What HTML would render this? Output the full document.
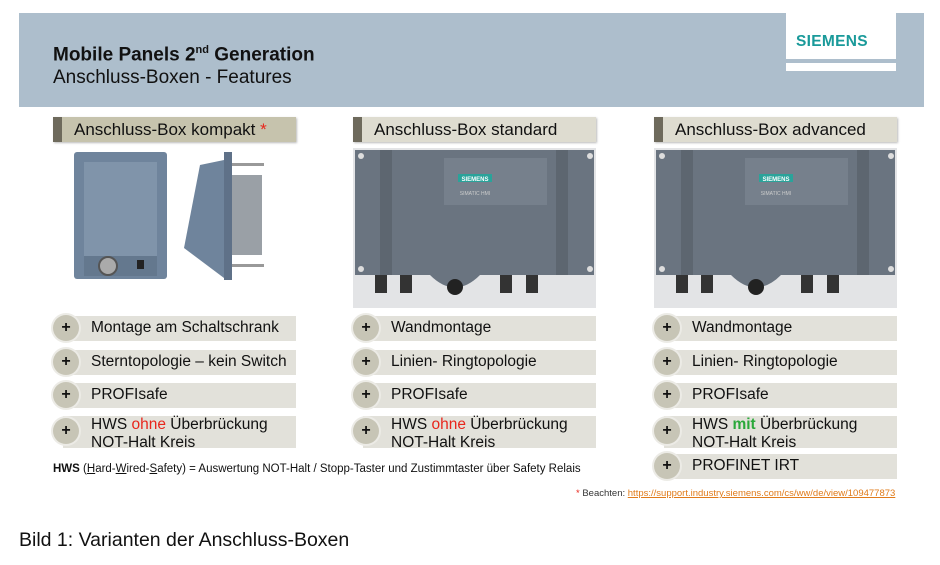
<!DOCTYPE html>
<html><head><meta charset="utf-8"><style>
body{margin:0;width:940px;height:565px;background:#fff;position:relative;overflow:hidden;font-family:"Liberation Sans",sans-serif}
.a{position:absolute}
.hdr{left:19px;top:13px;width:905px;height:94px;background:#adbecc}
.tab{height:25px;width:243px;background:#dedcd0;font-size:17px;line-height:26px;color:#111;box-shadow:1px 1px 2px #bbb}
.tab:before{content:"";position:absolute;left:0;top:0;width:9px;height:25px;background:#6e6a5c}
.tab span{position:absolute;left:21px;top:0}
.row{height:25px;width:233px;background:#e2e1da;font-size:15.5px;color:#111}
.row .c{position:absolute;left:-10px;top:-1px;width:26px;height:26px;border-radius:50%;background:#c7c5b6;box-shadow:0 0 0 2px #ecebe6;font-weight:bold;font-size:16px;text-align:center;line-height:25px}
.row .t{position:absolute;left:28px;top:3px;line-height:18px}
.red{color:#e8261c}.grn{color:#2aa83a;font-weight:bold}
</style></head><body>
<div class="a hdr"></div>
<div class="a" style="left:786px;top:13px;width:110px;height:46px;background:#fff"></div>
<div class="a" style="left:786px;top:63px;width:110px;height:8px;background:#fff"></div>
<div class="a" style="left:796px;top:33px;font-weight:bold;font-size:15.5px;color:#1a9a9a;letter-spacing:0.3px">SIEMENS</div>
<div class="a" style="left:53px;top:44px;font-weight:bold;font-size:19px;color:#111">Mobile Panels 2<sup style="font-size:11px">nd</sup> Generation</div>
<div class="a" style="left:53px;top:67px;font-size:19px;color:#111">Anschluss-Boxen - Features</div>

<div class="a tab" style="left:53px;top:117px;background:#c6c3ad"><span>Anschluss-Box kompakt <span class="red" style="position:static">*</span></span></div>
<div class="a tab" style="left:353px;top:117px"><span>Anschluss-Box standard</span></div>
<div class="a tab" style="left:654px;top:117px"><span>Anschluss-Box advanced</span></div>

<svg class="a" style="left:0;top:0" width="940" height="320">
<g>
<rect x="74" y="152" width="93" height="127" rx="3" fill="#6f849c"/>
<rect x="84" y="162" width="73" height="100" fill="#8094aa"/>
<rect x="84" y="256" width="73" height="20" fill="#64788e"/>
<circle cx="108" cy="266" r="9" fill="#aaa" stroke="#555" stroke-width="2"/>
<rect x="137" y="260" width="7" height="9" fill="#222"/>
<polygon points="200,165 224,160 224,278 184,248" fill="#6f849c"/>
<rect x="224" y="152" width="8" height="128" fill="#5f7188"/>
<rect x="232" y="175" width="30" height="80" fill="#9aa0a6"/>
<rect x="232" y="163" width="32" height="3" fill="#999"/><rect x="232" y="264" width="32" height="3" fill="#999"/>
</g>
<g id="box">
<rect x="353" y="148" width="243" height="160" fill="#e3e4e6"/>
<rect x="355" y="150" width="239" height="125" fill="#6a7480"/>
<rect x="380" y="150" width="12" height="125" fill="#5d6670"/>
<rect x="556" y="150" width="12" height="125" fill="#5d6670"/>
<rect x="444" y="158" width="103" height="47" fill="#76808c"/>
<rect x="458" y="174" width="34" height="8" fill="#2aa39a"/>
<text x="475" y="181" font-size="6" fill="#fff" text-anchor="middle" font-weight="bold">SIEMENS</text>
<text x="475" y="195" font-size="5" fill="#ccc" text-anchor="middle">SIMATIC HMI</text>
<circle cx="361" cy="156" r="3" fill="#ddd"/><circle cx="590" cy="156" r="3" fill="#ddd"/>
<circle cx="361" cy="269" r="3" fill="#ddd"/><circle cx="590" cy="269" r="3" fill="#ddd"/>
<path d="M430 275 Q455 300 480 275Z" fill="#6a7480"/>
<rect x="375" y="275" width="12" height="18" fill="#333"/><rect x="400" y="275" width="12" height="18" fill="#333"/>
<rect x="500" y="275" width="12" height="18" fill="#333"/><rect x="526" y="275" width="12" height="18" fill="#333"/>
<circle cx="455" cy="287" r="8" fill="#222"/>
</g>
<use href="#box" x="301"/>
</svg>

<div class="a row" style="left:63px;top:316px"><div class="c">+</div><div class="t">Montage am Schaltschrank</div></div>
<div class="a row" style="left:63px;top:350px"><div class="c">+</div><div class="t">Sterntopologie – kein Switch</div></div>
<div class="a row" style="left:63px;top:383px"><div class="c">+</div><div class="t">PROFIsafe</div></div>
<div class="a row" style="left:63px;top:416px;height:32px"><div class="c" style="top:2px">+</div><div class="t" style="top:0">HWS <span class="red">ohne</span> Überbrückung<br>NOT-Halt Kreis</div></div>

<div class="a row" style="left:363px;top:316px"><div class="c">+</div><div class="t">Wandmontage</div></div>
<div class="a row" style="left:363px;top:350px"><div class="c">+</div><div class="t">Linien- Ringtopologie</div></div>
<div class="a row" style="left:363px;top:383px"><div class="c">+</div><div class="t">PROFIsafe</div></div>
<div class="a row" style="left:363px;top:416px;height:32px"><div class="c" style="top:2px">+</div><div class="t" style="top:0">HWS <span class="red">ohne</span> Überbrückung<br>NOT-Halt Kreis</div></div>

<div class="a row" style="left:664px;top:316px"><div class="c">+</div><div class="t">Wandmontage</div></div>
<div class="a row" style="left:664px;top:350px"><div class="c">+</div><div class="t">Linien- Ringtopologie</div></div>
<div class="a row" style="left:664px;top:383px"><div class="c">+</div><div class="t">PROFIsafe</div></div>
<div class="a row" style="left:664px;top:416px;height:32px"><div class="c" style="top:2px">+</div><div class="t" style="top:0">HWS <span class="grn">mit</span> Überbrückung<br>NOT-Halt Kreis</div></div>
<div class="a row" style="left:664px;top:454px"><div class="c">+</div><div class="t">PROFINET IRT</div></div>

<div class="a" style="left:53px;top:463px;font-size:11.5px;color:#111"><b>HWS</b> (<u>H</u>ard-<u>W</u>ired-<u>S</u>afety) = Auswertung NOT-Halt / Stopp-Taster und Zustimmtaster über Safety Relais</div>
<div class="a" style="left:576px;top:488px;font-size:9.5px;color:#333"><span class="red">*</span> Beachten: <span style="color:#e07b1a;text-decoration:underline">https://support.industry.siemens.com/cs/ww/de/view/109477873</span></div>
<div class="a" style="left:19px;top:529px;font-size:19.5px;color:#111">Bild 1: Varianten der Anschluss-Boxen</div>
</body></html>
